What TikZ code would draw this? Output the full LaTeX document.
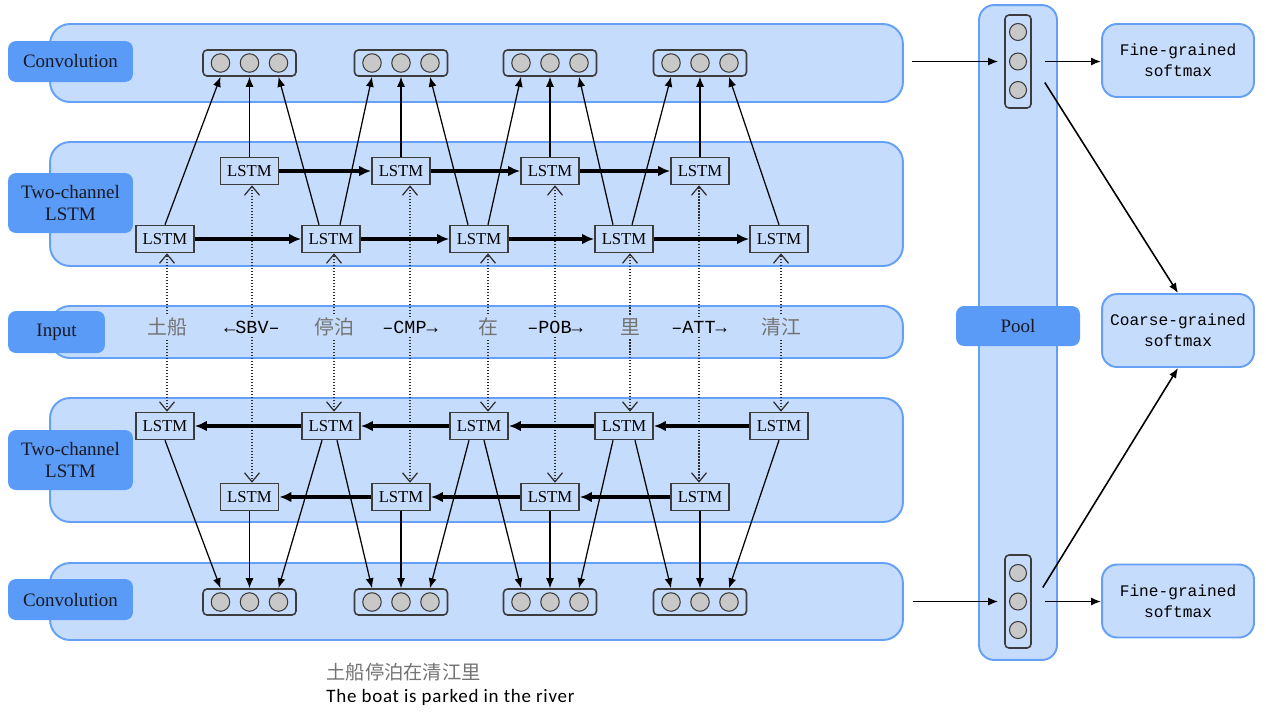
\documentclass[tikz,border=0pt]{standalone}
\usepackage{fontspec}
\setmainfont{Liberation Serif}
\newfontfamily\cjk{Noto Sans CJK SC}
\newfontfamily\monof{Liberation Mono}
\newfontfamily\capf[LetterSpace=4]{Carlito}
\usetikzlibrary{arrows.meta,calc}
\definecolor{panelfill}{RGB}{198,220,252}
\definecolor{panelline}{RGB}{100,160,245}
\definecolor{tagfill}{RGB}{90,155,248}
\definecolor{boxline}{RGB}{60,60,60}
\definecolor{dotgrey}{RGB}{45,45,45}
\definecolor{wordgrey}{RGB}{115,115,115}
\definecolor{circfill}{RGB}{200,200,200}
\definecolor{tagtext}{RGB}{25,25,35}
\begin{document}
\begin{tikzpicture}[x=0.02cm,y=-0.02cm,
  panel/.style={draw=panelline,fill=panelfill,line width=1.1pt,rounded corners=0.4cm,inner sep=0pt},
  tag/.style={fill=tagfill,rounded corners=0.16cm,inner sep=0pt,align=center,text=tagtext,font=\fontsize{10.8}{12.6}\selectfont},
  lstm/.style={draw=boxline,fill=panelfill,line width=0.9pt,minimum width=1.16cm,minimum height=0.54cm,inner sep=0pt,font=\fontsize{9.5}{11}\selectfont},
  vecbox/.style={draw=boxline,line width=0.9pt,rounded corners=0.08cm,inner sep=0pt},
  neuron/.style={circle,draw=boxline,fill=circfill,line width=0.6pt,minimum size=0.37cm,inner sep=0pt},
  flow/.style={-{Latex[length=2mm,width=1.6mm]},line width=0.7pt},
  chain/.style={-{Latex[length=2.4mm,width=2.1mm]},line width=1.9pt},
  feed/.style={-{Straight Barb[length=1.8mm,width=3mm]},densely dotted,draw=dotgrey,line width=0.7pt},
  soft/.style={draw=panelline,fill=panelfill,line width=1.1pt,rounded corners=0.3cm,minimum width=3.04cm,minimum height=1.46cm,inner sep=0pt,align=center,font=\monof\fontsize{9.2}{12}\selectfont},
  word/.style={font=\cjk\fontsize{11.3}{13}\selectfont,text=wordgrey,inner sep=2pt},
  dep/.style={font=\monof\fontsize{10.5}{13}\selectfont,inner sep=2pt},
]
\useasboundingbox (0,0) rectangle (1266,711);

% ---------------- panels
\node[panel,minimum width=17.06cm,minimum height=1.56cm] (convT) at (476.5,63) {};
\node[panel,minimum width=17.06cm,minimum height=2.48cm] (lstmT) at (476.5,204) {};
\node[panel,minimum width=17.06cm,minimum height=1.04cm] (inp) at (476.5,332) {};
\node[panel,minimum width=17.06cm,minimum height=2.48cm] (lstmB) at (476.5,460) {};
\node[panel,minimum width=17.06cm,minimum height=1.54cm] (convB) at (476.5,601.5) {};

% ---------------- tags
\node[tag,minimum width=2.5cm,minimum height=0.82cm] (tConvT) at (70.5,61.5) {Convolution};
\node[tag,minimum width=2.5cm,minimum height=1.2cm] (tLstmT) at (70.5,203) {Two-channel\\LSTM};
\node[tag,minimum width=1.94cm,minimum height=0.84cm] (tInp) at (56.5,332) {Input};
\node[tag,minimum width=2.5cm,minimum height=1.2cm] (tLstmB) at (70.5,460) {Two-channel\\LSTM};
\node[tag,minimum width=2.5cm,minimum height=0.82cm] (tConvB) at (70.5,599.5) {Convolution};

% ---------------- pool column
\node[panel,rounded corners=0.3cm,minimum width=1.56cm,minimum height=13.1cm] (pool) at (1018,332.5) {};
\node[tag,minimum width=2.48cm,minimum height=0.8cm] (tPool) at (1018,326) {Pool};
\node[vecbox,minimum width=0.52cm,minimum height=1.86cm] (pvT) at (1018,61.5) {};
\node[vecbox,minimum width=0.52cm,minimum height=1.86cm] (pvB) at (1018,601.5) {};
\foreach \n/\y in {a/32,b/61.5,c/90} \node[neuron,minimum size=0.34cm] (pvT-\n) at (1018,\y) {};
\foreach \n/\y in {a/573,b/601.5,c/630} \node[neuron,minimum size=0.34cm] (pvB-\n) at (1018,\y) {};

% ---------------- softmax boxes
\node[soft] (fineT) at (1178,60.5) {Fine-grained\\softmax};
\node[soft] (coarse) at (1178,330.5) {Coarse-grained\\softmax};
\node[soft] (fineB) at (1178,601) {Fine-grained\\softmax};

% ---------------- convolution vectors
\foreach \i/\x in {1/249.5,2/401,3/550,4/700} {
  \node[vecbox,minimum width=1.86cm,minimum height=0.52cm] (vt\i) at (\x,63) {};
  \node[neuron] (vt\i-a) at (\x-29,63) {};
  \node[neuron] (vt\i-b) at (\x,63) {};
  \node[neuron] (vt\i-c) at (\x+29,63) {};
  \node[vecbox,minimum width=1.86cm,minimum height=0.52cm] (vb\i) at (\x,602) {};
  \node[neuron] (vb\i-a) at (\x-29,602) {};
  \node[neuron] (vb\i-b) at (\x,602) {};
  \node[neuron] (vb\i-c) at (\x+29,602) {};
}

% ---------------- LSTM cells
\foreach \i/\x in {1/249.5,2/401,3/550,4/700} {
  \node[lstm] (A\i) at (\x,171) {LSTM};
  \node[lstm] (D\i) at (\x,497) {LSTM};
}
\foreach \i/\x in {1/165,2/331,3/479,4/624,5/779} {
  \node[lstm] (B\i) at (\x,239) {LSTM};
  \node[lstm] (C\i) at (\x,426) {LSTM};
}

% ---------------- input words
\node[word] (w1) at (167,327) {土船};
\node[dep]  (d1) at (252,327) {←SBV–};
\node[word] (w2) at (334,327) {停泊};
\node[dep]  (d2) at (410,327) {–CMP→};
\node[word] (w3) at (488,327) {在};
\node[dep]  (d3) at (555,327) {–POB→};
\node[word] (w4) at (630,327) {里};
\node[dep]  (d4) at (699,327) {–ATT→};
\node[word] (w5) at (781,327) {清江};

% ---------------- dotted feeds
\foreach \w/\t/\b in {w1/B1/C1,w2/B2/C2,w3/B3/C3,w4/B4/C4,w5/B5/C5} {
  \draw[feed] (\w.north) -- (\w.north |- \t.south);
  \draw[feed] (\w.south) -- (\w.south |- \b.north);
}
\foreach \w/\t/\b in {d1/A1/D1,d2/A2/D2,d3/A3/D3,d4/A4/D4} {
  \draw[feed] (\w.north) -- (\w.north |- \t.south);
  \draw[feed] (\w.south) -- (\w.south |- \b.north);
}

% ---------------- recurrent chains
\foreach \i/\j in {1/2,2/3,3/4,4/5} {
  \draw[chain] (B\i) -- (B\j);
  \draw[chain] (C\j) -- (C\i);
}
\foreach \i/\j in {1/2,2/3,3/4} {
  \draw[chain] (A\i) -- (A\j);
  \draw[chain] (D\j) -- (D\i);
}

% ---------------- LSTM -> convolution (top)
\foreach \i in {1,2,3,4} {
  \draw[flow] (A\i.north) -- (vt\i-b |- vt\i.south);
  \draw[flow] (D\i.south) -- (vb\i-b |- vb\i.north);
}
\draw[flow] (B1.north) -- (vt1-a |- vt1.south);
\draw[flow] ($(B2.north)+(-12,0)$) -- (vt1-c |- vt1.south);
\draw[flow] ($(B2.north)+(9,0)$) -- (vt2-a |- vt2.south);
\draw[flow] ($(B3.north)+(-11,0)$) -- (vt2-c |- vt2.south);
\draw[flow] ($(B3.north)+(9,0)$) -- (vt3-a |- vt3.south);
\draw[flow] ($(B4.north)+(-11,0)$) -- (vt3-c |- vt3.south);
\draw[flow] ($(B4.north)+(8,0)$) -- (vt4-a |- vt4.south);
\draw[flow] (B5.north) -- (vt4-c |- vt4.south);

% ---------------- LSTM -> convolution (bottom)
\draw[flow] (C1.south) -- (vb1-a |- vb1.north);
\draw[flow] ($(C2.south)+(-9,0)$) -- (vb1-c |- vb1.north);
\draw[flow] ($(C2.south)+(6,0)$) -- (vb2-a |- vb2.north);
\draw[flow] ($(C3.south)+(-10,0)$) -- (vb2-c |- vb2.north);
\draw[flow] ($(C3.south)+(5,0)$) -- (vb3-a |- vb3.north);
\draw[flow] ($(C4.south)+(-11,0)$) -- (vb3-c |- vb3.north);
\draw[flow] ($(C4.south)+(11,0)$) -- (vb4-a |- vb4.north);
\draw[flow] (C5.south) -- (vb4-c |- vb4.north);

% ---------------- to pool and softmax
\draw[flow,line width=0.9pt,shorten <=0.16cm,shorten >=0.12cm] (pvT.west -| convT.east) -- (pvT.west);
\draw[flow,line width=0.9pt,shorten <=0.18cm,shorten >=0.12cm] (pvB.west -| convB.east) -- (pvB.west);
\draw[flow,line width=0.9pt,shorten <=0.26cm] (pvT.east) -- (pvT.east -| fineT.west);
\draw[flow,line width=0.9pt,shorten <=0.26cm] (pvB.east) -- (pvB.east -| fineB.west);
\draw[flow,line width=0.9pt] ($(pvT.east)+(13,21)$) -- (coarse.north);
\draw[flow,line width=0.9pt] ($(pvB.east)+(11,-14)$) -- (coarse.south);

% ---------------- caption
\node[anchor=west,inner sep=0pt,font=\cjk\fontsize{11}{13}\selectfont,text=wordgrey] (capzh) at (326,672) {土船停泊在清江里};
\node[anchor=west,inner sep=0pt,font=\capf\fontsize{10.8}{12}\selectfont] (capen) at (326,697) {The boat is parked in the river};
\end{tikzpicture}
\end{document}
